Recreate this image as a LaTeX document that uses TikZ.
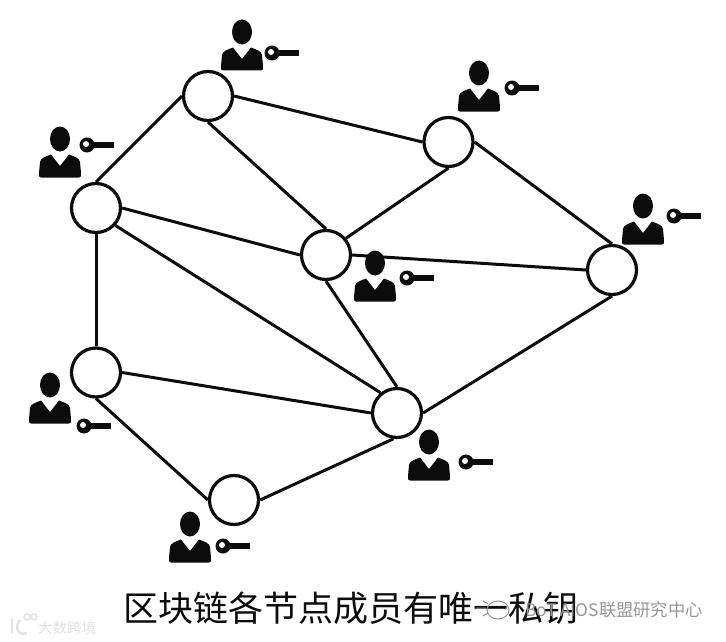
\documentclass[tikz,border=0pt]{standalone}
\usepackage{xcolor}
\usepackage{fontspec}
\usepackage{tikz}
\usetikzlibrary{positioning}
\newfontfamily\cjk{Noto Sans CJK SC}
\definecolor{mydark}{RGB}{12,12,12}
\definecolor{mywater}{RGB}{226,226,226}
\definecolor{mygrey}{RGB}{150,150,150}
\tikzset{
  member/.style={circle, draw=mydark, fill=white, minimum size=49pt, inner sep=0pt, line width=3.2pt},
  link/.style={line width=3pt, color=mydark},
  caption/.style={font=\cjk\fontsize{35}{40}\selectfont, color=mydark, inner sep=0pt},
  waterleft/.style={font=\cjk\fontsize{14.5}{18}\selectfont, color=mywater, inner sep=0pt},
  waterright/.style={font=\cjk\fontsize{17.3}{20}\selectfont, color=mygrey, inner sep=0pt},
  person/.pic={
    \fill[mydark] (0,0) ellipse (10pt and 12.5pt);
    \fill[mydark] (-19,38.5) .. controls (-21,38.5) and (-21.5,37) .. (-21,34) -- (-20,23) .. controls (-19.5,19) and (-14,17.5) .. (-9,15.5) -- (0,27) -- (9,15.5) .. controls (14,17.5) and (19.5,19) .. (20,23) -- (21,34) .. controls (21.5,37) and (21,38.5) .. (19,38.5) -- cycle;
  },
  keyicon/.pic={
    \fill[mydark] (5,-3) rectangle (27,3);
    \fill[mydark] (0,0) circle (7.5pt);
    \fill[white] (-1,-1) circle (3pt);
  }
}
\begin{document}
\begin{tikzpicture}[x=1pt, y=-1pt]
  \useasboundingbox (0,0) rectangle (726,642);
  % network members
  \node[member] (top) at (208,96) {};
  \node[member] (left) at (96,208) {};
  \node[member] (upper) at (448.5,142) {};
  \node[member] (mid) at (326,255) {};
  \node[member] (right) at (612,270) {};
  \node[member] (lower) at (96,372.5) {};
  \node[member] (hub) at (397,413) {};
  \node[member] (bottom) at (234,500) {};

  \draw[link] (left.90) -- (top.180);
  \draw[link] (top.0) -- (upper.180);
  \draw[link] (top.270) -- (mid.90);
  \draw[link] (upper.270) -- (mid.40);
  \draw[link] (upper.0) -- (right.90);
  \draw[link] (left.0) -- (mid.180);
  \draw[link] (left.-42) -- (hub.129);
  \draw[link] (left.270) -- (lower.90);
  \draw[link] (mid.0) -- (right.180);
  \draw[link] (mid.270) -- (hub.90);
  \draw[link] (right.270) -- (hub.0);
  \draw[link] (lower.0) -- (hub.180);
  \draw[link] (lower.270) -- (bottom.180);
  \draw[link] (bottom.0) -- (hub.262);

  % people and their keys
  \pic at (242,32) {person};
  \pic at (272,53) {keyicon};
  \pic at (60,139) {person};
  \pic at (87,145) {keyicon};
  \pic at (479,73) {person};
  \pic at (512,88) {keyicon};
  \pic at (643,206) {person};
  \pic at (674,216) {keyicon};
  \pic at (375,263) {person};
  \pic at (407,278) {keyicon};
  \pic at (50,385) {person};
  \pic at (84,426) {keyicon};
  \pic at (429,442) {person};
  \pic at (466,462) {keyicon};
  \pic at (190,524) {person};
  \pic at (223,546) {keyicon};

  \node[caption, anchor=center] (title) at (351,608) {区块链各节点成员有唯一私钥};

  % watermarks
  \draw[mywater, line width=2.5pt] (12,619) -- (12,633);
  \draw[mywater, line width=2.5pt] (27,633) .. controls (18,636) and (14,628) .. (20,620);
  \draw[mywater, line width=1.5pt] (27,617) circle (3pt) (34,617) circle (3pt);
  \node[waterleft, anchor=west] (brandleft) at (38,628) {大数跨境};
  \draw[mygrey, line width=1pt] (498,610) ellipse (11pt and 9pt);
  \draw[mygrey, line width=1pt] (476,608) -- (486,608) (483,601) -- (488,604) (483,616) -- (488,613);
  \node[waterright, anchor=east] (brandright) at (703,610) {BoT AIOS联盟研究中心};
\end{tikzpicture}
\end{document}
